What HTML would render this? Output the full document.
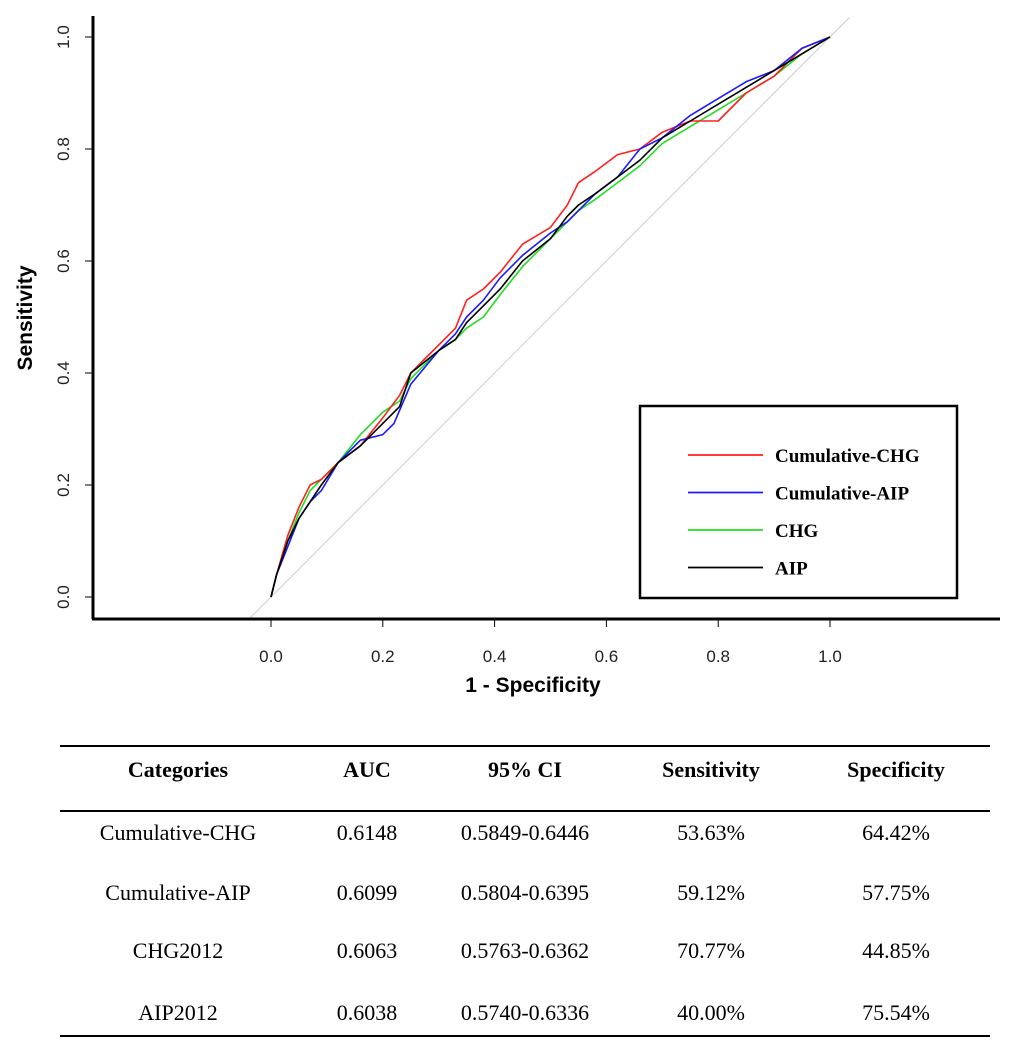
<!DOCTYPE html>
<html><head><meta charset="utf-8"><style>
body{margin:0;background:#fff;}
svg{display:block;}
</style></head><body>
<svg width="1013" height="1064" xmlns="http://www.w3.org/2000/svg">
<g id="plot"></g>
<g font-family="Liberation Serif, serif" font-size="22" text-anchor="middle" fill="#000">
<line x1="60" y1="746" x2="990" y2="746" stroke="#000" stroke-width="2"/>
<line x1="60" y1="811" x2="990" y2="811" stroke="#000" stroke-width="2"/>
<line x1="60" y1="1036" x2="990" y2="1036" stroke="#000" stroke-width="2"/>
<g font-weight="bold">
<text x="178" y="777">Categories</text><text x="367" y="777">AUC</text><text x="525" y="777">95% CI</text><text x="711" y="777">Sensitivity</text><text x="896" y="777">Specificity</text>
</g>
<g><text x="178" y="840">Cumulative-CHG</text><text x="367" y="840">0.6148</text><text x="525" y="840">0.5849-0.6446</text><text x="711" y="840">53.63%</text><text x="896" y="840">64.42%</text></g>
<g><text x="178" y="900">Cumulative-AIP</text><text x="367" y="900">0.6099</text><text x="525" y="900">0.5804-0.6395</text><text x="711" y="900">59.12%</text><text x="896" y="900">57.75%</text></g>
<g><text x="178" y="958">CHG2012</text><text x="367" y="958">0.6063</text><text x="525" y="958">0.5763-0.6362</text><text x="711" y="958">70.77%</text><text x="896" y="958">44.85%</text></g>
<g><text x="178" y="1020">AIP2012</text><text x="367" y="1020">0.6038</text><text x="525" y="1020">0.5740-0.6336</text><text x="711" y="1020">40.00%</text><text x="896" y="1020">75.54%</text></g>
</g>
</svg>
<script>
const ticks=[0,0.2,0.4,0.6,0.8,1.0];
const tickLabels=["0.0","0.2","0.4","0.6","0.8","1.0"];
const seriesNames=["Cumulative-CHG","Cumulative-AIP","CHG","AIP"];
const seriesColors=["#ff2020","#1a1aff","#22dd22","#000000"];
const fprRed=[0,0.01,0.03,0.05,0.07,0.09,0.12,0.16,0.2,0.23,0.25,0.3,0.33,0.35,0.38,0.41,0.45,0.5,0.53,0.55,0.58,0.62,0.66,0.7,0.75,0.8,0.85,0.9,0.95,1];
const tprRed=[0,0.04,0.11,0.16,0.2,0.21,0.24,0.27,0.32,0.36,0.4,0.45,0.48,0.53,0.55,0.58,0.63,0.66,0.7,0.74,0.76,0.79,0.8,0.83,0.85,0.85,0.9,0.93,0.98,1];
const fprBlue=[0,0.01,0.03,0.05,0.07,0.09,0.12,0.16,0.2,0.22,0.25,0.3,0.33,0.35,0.38,0.41,0.45,0.5,0.53,0.55,0.58,0.62,0.66,0.7,0.75,0.8,0.85,0.9,0.95,1];
const tprBlue=[0,0.04,0.09,0.14,0.17,0.19,0.24,0.28,0.29,0.31,0.38,0.44,0.47,0.5,0.53,0.57,0.61,0.65,0.67,0.69,0.72,0.75,0.8,0.82,0.86,0.89,0.92,0.94,0.98,1];
const fprGreen=[0,0.01,0.03,0.05,0.07,0.09,0.12,0.16,0.2,0.23,0.25,0.3,0.33,0.35,0.38,0.41,0.45,0.5,0.53,0.55,0.58,0.62,0.66,0.7,0.75,0.8,0.85,0.9,0.95,1];
const tprGreen=[0,0.04,0.1,0.15,0.19,0.21,0.24,0.29,0.33,0.35,0.39,0.44,0.46,0.48,0.5,0.54,0.59,0.64,0.67,0.69,0.71,0.74,0.77,0.81,0.84,0.87,0.9,0.93,0.97,1];
const fprBlack=[0,0.01,0.03,0.05,0.07,0.09,0.12,0.16,0.2,0.23,0.25,0.3,0.33,0.35,0.38,0.41,0.45,0.5,0.53,0.55,0.58,0.62,0.66,0.7,0.75,0.8,0.85,0.9,0.95,1];
const tprBlack=[0,0.04,0.1,0.14,0.17,0.2,0.24,0.27,0.31,0.34,0.4,0.44,0.46,0.49,0.52,0.55,0.6,0.64,0.68,0.7,0.72,0.75,0.78,0.82,0.85,0.88,0.91,0.94,0.97,1];
const NS="http://www.w3.org/2000/svg";
const X=v=>271+v*559, Y=v=>597-v*560;
const plot=document.getElementById('plot');
function mk(tag,attrs,parent){const e=document.createElementNS(NS,tag);for(const k in attrs)e.setAttribute(k,attrs[k]);(parent||plot).appendChild(e);return e;}
let d=mk('line',{x1:X(-0.04),y1:Y(-0.04),x2:X(1.035),y2:Y(1.035),stroke:'#cccccc','stroke-width':1});


let ya=mk('line',{x1:93,y1:16,x2:93,y2:619,stroke:'#000','stroke-width':3});


let xa=mk('line',{x1:92,y1:619,x2:1000,y2:619,stroke:'#000','stroke-width':3});


ticks.forEach((t,i)=>{
  let a=mk('line',{x1:X(t),y1:619,x2:X(t),y2:627,stroke:'#000','stroke-width':1});
  
  
  let tx=mk('text',{x:X(t),y:662,'text-anchor':'middle','font-family':'Liberation Sans, sans-serif','font-size':17,fill:'#222'});
  tx.textContent=tickLabels[i];
  
  
  let b=mk('line',{x1:85,y1:Y(t),x2:93,y2:Y(t),stroke:'#000','stroke-width':1});
  
  
  let ty=mk('text',{x:0,y:0,'text-anchor':'middle','font-family':'Liberation Sans, sans-serif','font-size':17,fill:'#222',transform:`translate(69,${Y(t)}) rotate(-90)`});
  ty.textContent=tickLabels[i];
  
  
});
let xt=mk('text',{x:533,y:692,'text-anchor':'middle','font-family':'Liberation Sans, sans-serif','font-size':21,'font-weight':'bold'});
xt.textContent='1 - Specificity';


let yt=mk('text',{x:0,y:0,'text-anchor':'middle','font-family':'Liberation Sans, sans-serif','font-size':21,'font-weight':'bold',transform:'translate(32,318) rotate(-90)'});
yt.textContent='Sensitivity';


const allF=[fprRed,fprBlue,fprGreen,fprBlack], allT=[tprRed,tprBlue,tprGreen,tprBlack];
const order=[2,0,1,3];
order.forEach(i=>{
  const pts=allF[i].map((f,j)=>X(f).toFixed(1)+','+Y(allT[i][j]).toFixed(1)).join(' ');
  let p=mk('polyline',{points:pts,fill:'none',stroke:seriesColors[i],'stroke-width':1.6,'stroke-linejoin':'round'});
  
  
});
let lg=mk('g',{});


let box=mk('rect',{x:640,y:406,width:317,height:192,fill:'#fff',stroke:'#000','stroke-width':2.5},lg);


seriesNames.forEach((n,i)=>{
  const yy=455+i*37.5;
  let l=mk('line',{x1:688,y1:yy,x2:763,y2:yy,stroke:seriesColors[i],'stroke-width':1.8},lg);
  
  
  let t=mk('text',{x:775,y:yy+7,'font-family':'Liberation Serif, serif','font-size':19,'font-weight':'bold'},lg);
  t.textContent=n;
  
  
});
</script>
</body></html>
